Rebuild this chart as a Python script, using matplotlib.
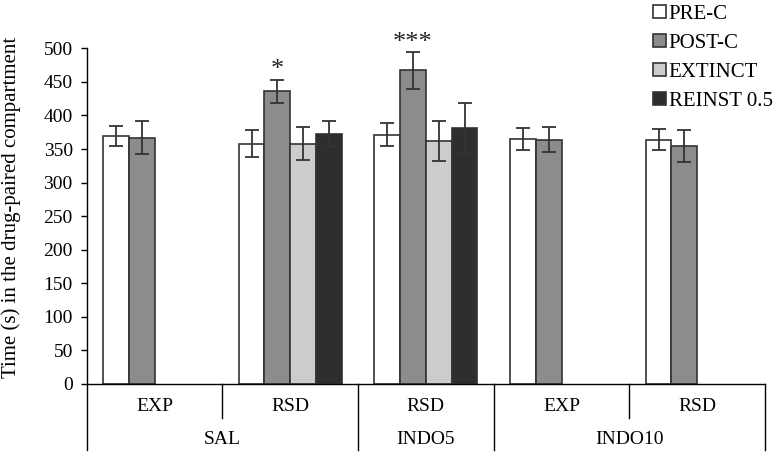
import matplotlib
matplotlib.use("Agg")
import matplotlib.pyplot as plt
from matplotlib.patches import Patch
import numpy as np

plt.rcParams['font.family'] = ['Liberation Serif', 'DejaVu Serif']

# ---- data ----
sub_labels = ["EXP", "RSD", "RSD", "EXP", "RSD"]
group_labels = ["SAL", "INDO5", "INDO10"]
group_spans = [(0, 2), (2, 3), (3, 5)]      # category index ranges per group
series = ["PRE-C", "POST-C", "EXTINCT", "REINST 0.5"]
colors = ["#ffffff", "#8c8c8c", "#cccccc", "#2e2e2e"]

pre_c   = [369, 358, 371, 365, 364]
post_c  = [367, 436, 467, 364, 355]
extinct = [np.nan, 358, 362, np.nan, np.nan]
reinst  = [np.nan, 372, 381, np.nan, np.nan]

pre_c_err   = [15, 20, 17, 17, 16]
post_c_err  = [25, 17, 27, 19, 24]
extinct_err = [np.nan, 25, 30, np.nan, np.nan]
reinst_err  = [np.nan, 19, 37, np.nan, np.nan]

signif = {(1, 1): "*", (2, 1): "***"}   # (category, series): marker

values = [pre_c, post_c, extinct, reinst]
errors = [pre_c_err, post_c_err, extinct_err, reinst_err]

# ---- figure ----
fig = plt.figure(figsize=(7.76, 4.55), dpi=100)
ax = fig.add_axes([86.7/776, 1-384/455, (765-86.7)/776, (384-48.3)/455])

x = np.arange(len(sub_labels))
w = 0.19
edge = "#333333"
for j, (vals, errs) in enumerate(zip(values, errors)):
    pos = x + (j - 1.5) * w
    v = np.array(vals, dtype=float)
    e = np.array(errs, dtype=float)
    m = ~np.isnan(v)
    ax.bar(pos[m], v[m], width=w, color=colors[j], edgecolor=edge,
           linewidth=1.2, zorder=2)
    ax.errorbar(pos[m], v[m], yerr=e[m], fmt="none", ecolor="#333333",
                elinewidth=1.3, capsize=5, capthick=1.3, zorder=3)

for (ci, sj), mark in signif.items():
    pos = x[ci] + (sj - 1.5) * w
    top = values[sj][ci] + errors[sj][ci]
    ax.text(pos, top - 2, mark, ha="center", va="bottom", fontsize=19,
            color="#222222", clip_on=False)

ax.set_xlim(-0.5, len(sub_labels) - 0.5)
ax.set_ylim(0, 500)
ax.set_yticks(np.arange(0, 501, 50))
ax.tick_params(axis="y", labelsize=14, length=4, width=1, direction="out",
               pad=6, colors="black")
ax.set_xticks([])
for s in ["top", "right"]:
    ax.spines[s].set_visible(False)
ax.spines["left"].set_linewidth(1)
ax.spines["bottom"].set_linewidth(1)

ax.set_ylabel("Time (s) in the drug-paired compartment", fontsize=15)
ax.yaxis.set_label_coords(-0.097, 0.525)

# two-level category axis
trans = ax.get_xaxis_transform()
short_y = -34 / 336
long_y = -66 / 336
for i, lab in enumerate(sub_labels):
    ax.text(x[i], -23 / 336, lab, transform=trans, ha="center", va="center",
            fontsize=14)
boundaries_long = set()
for (a, b) in group_spans:
    boundaries_long.add(a - 0.5)
    boundaries_long.add(b - 0.5)
for k in range(len(sub_labels) + 1):
    bx = k - 0.5
    yend = long_y if bx in boundaries_long else short_y
    ax.plot([bx, bx], [0, yend], transform=trans, color="black", lw=1,
            clip_on=False)
for lab, (a, b) in zip(group_labels, group_spans):
    ax.text((a + b - 1) / 2, -56 / 336, lab, transform=trans, ha="center",
            va="center", fontsize=14)

handles = [Patch(facecolor=c, edgecolor=edge, linewidth=1.2) for c in colors]
fig.legend(handles, series, loc="upper left", bbox_to_anchor=(653/776, 0.99),
           frameon=False, fontsize=15, handlelength=0.6, handleheight=0.6,
           handletextpad=0.15, labelspacing=0.48, borderaxespad=0,
           borderpad=0)

fig.savefig("out.png", dpi=100)
